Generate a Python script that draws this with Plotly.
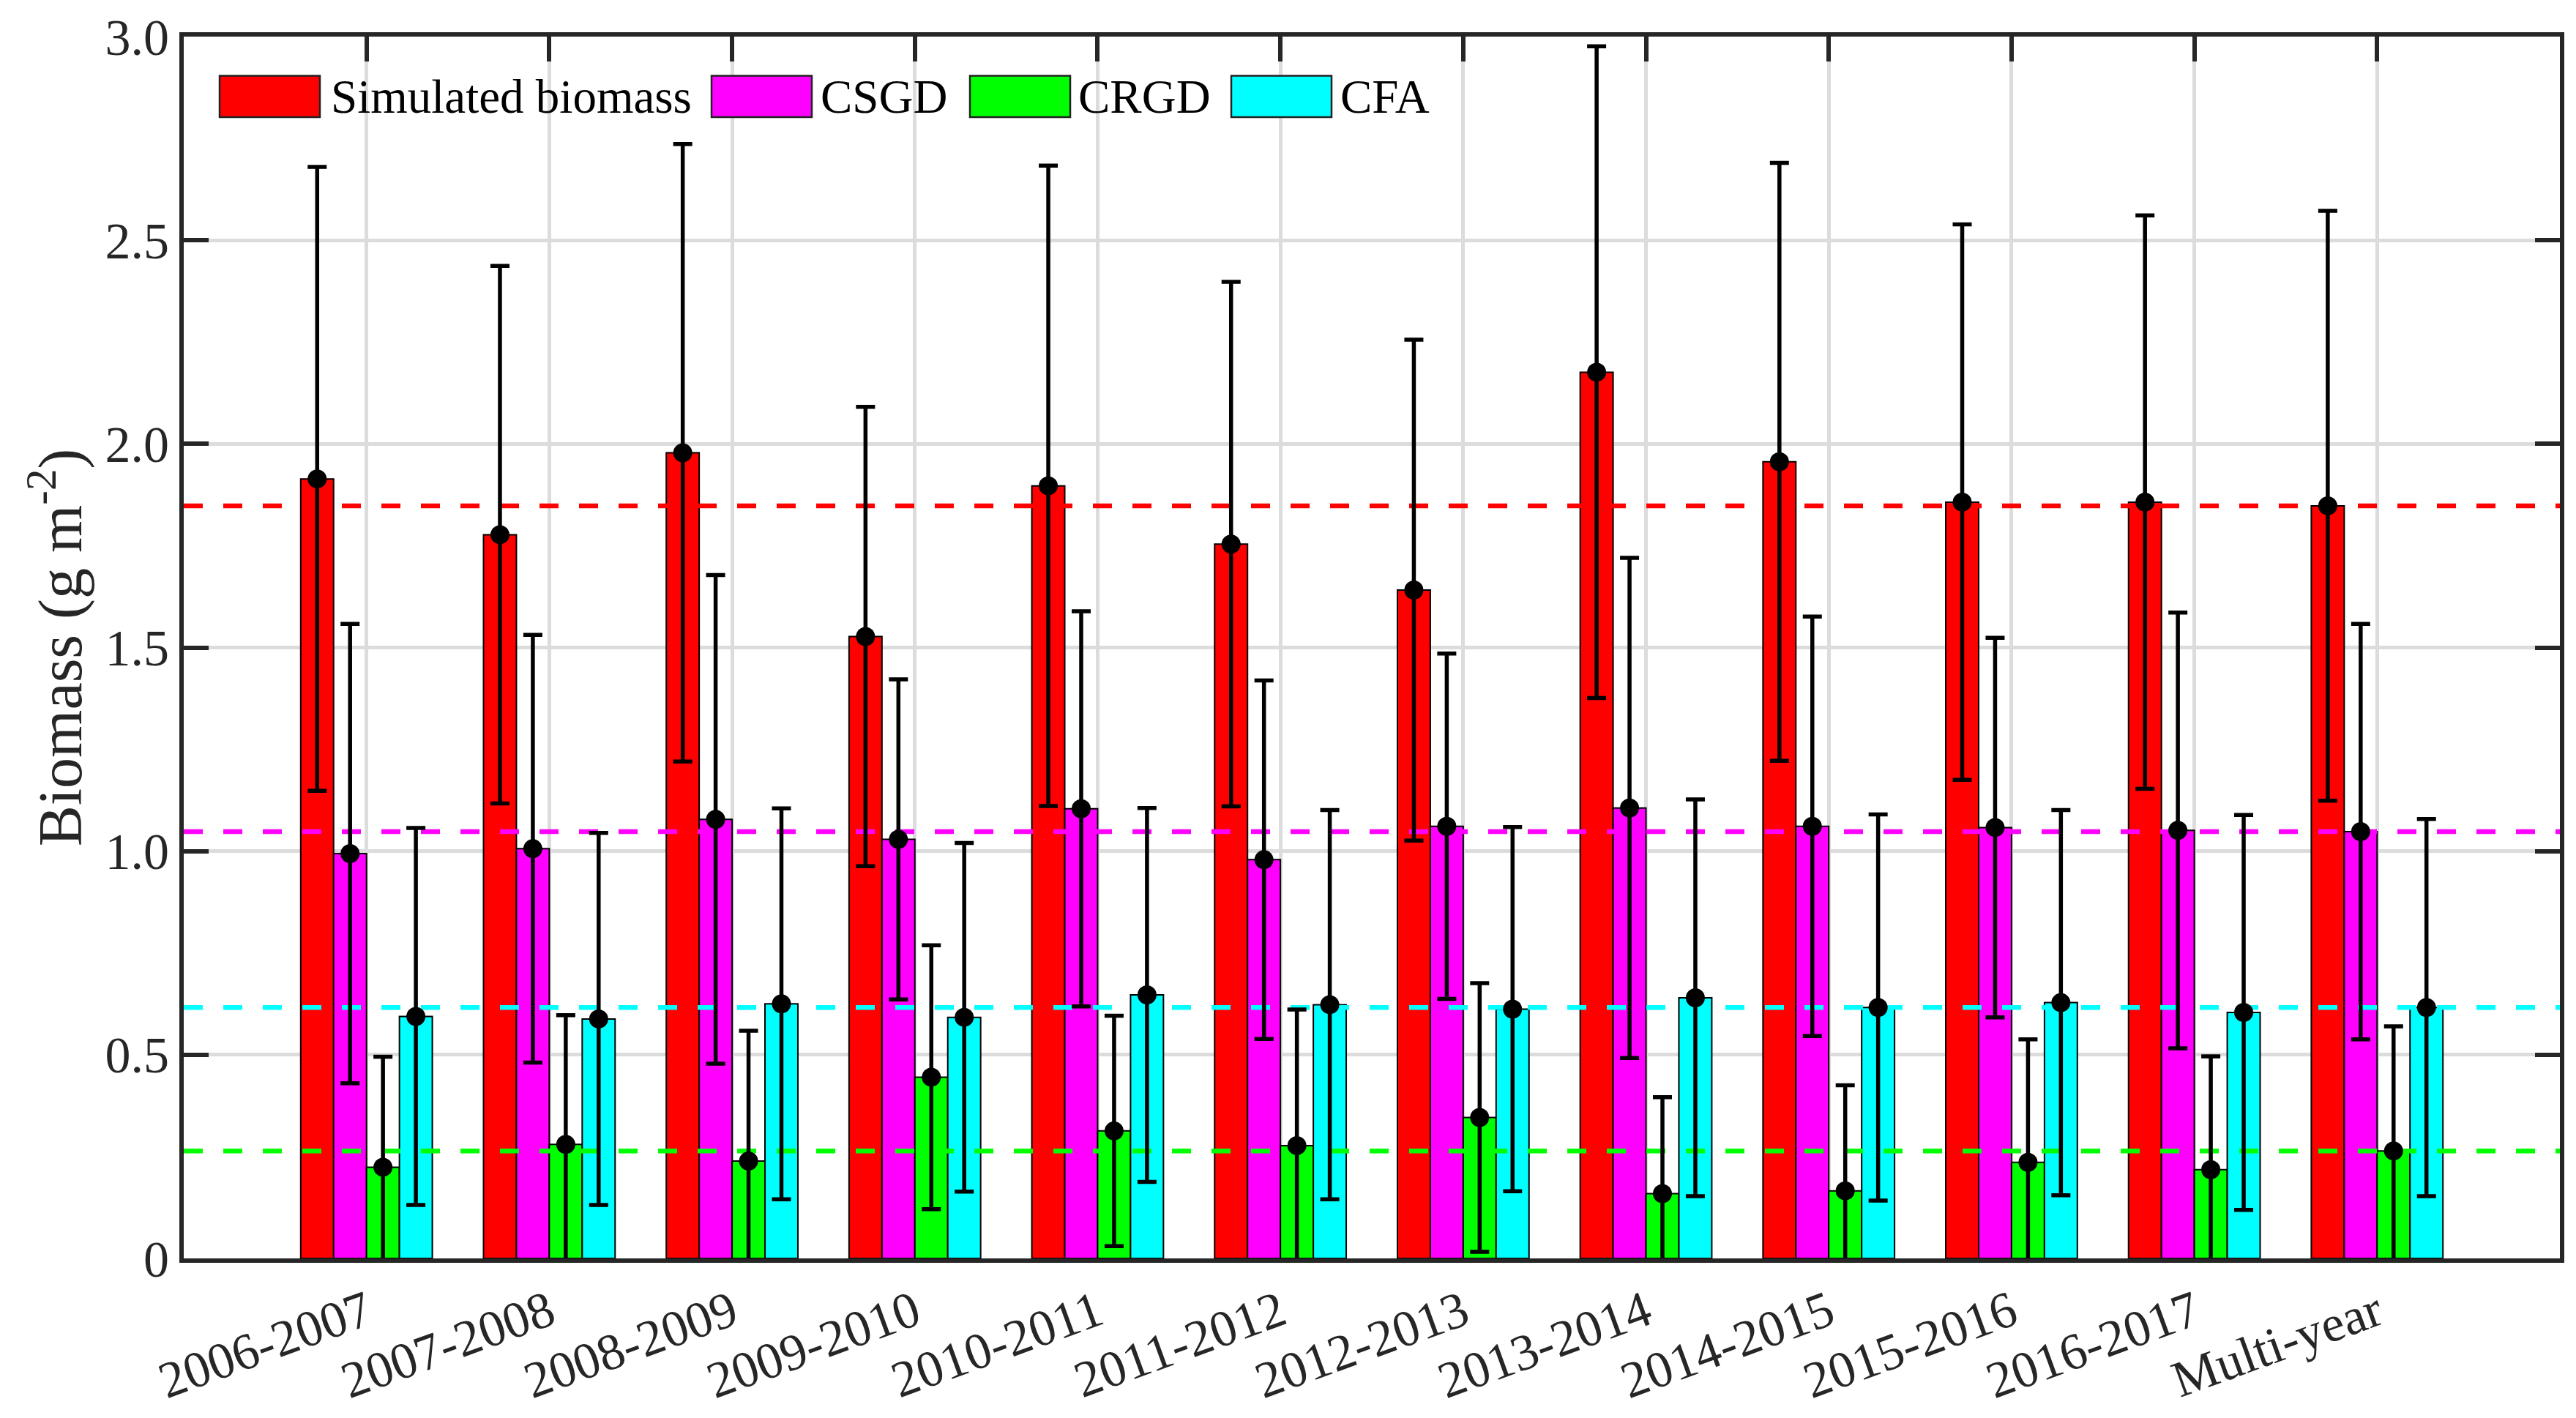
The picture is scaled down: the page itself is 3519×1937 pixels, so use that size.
import plotly.graph_objects as go

# ---------------- data ----------------
categories = ["2006-2007", "2007-2008", "2008-2009", "2009-2010", "2010-2011", "2011-2012",
              "2012-2013", "2013-2014", "2014-2015", "2015-2016", "2016-2017", "Multi-year"]

series_names = ["Simulated biomass", "CSGD", "CRGD", "CFA"]

sim_mean = [1.914, 1.777, 1.978, 1.527, 1.897, 1.754, 1.641, 2.176, 1.956, 1.857, 1.857, 1.848]
sim_sd   = [0.766, 0.660, 0.758, 0.564, 0.786, 0.644, 0.615, 0.800, 0.734, 0.682, 0.704, 0.724]

csgd_mean = [0.994, 1.006, 1.078, 1.029, 1.104, 0.979, 1.061, 1.106, 1.061, 1.058, 1.051, 1.048]
csgd_sd   = [0.564, 0.525, 0.600, 0.393, 0.485, 0.440, 0.424, 0.614, 0.515, 0.466, 0.535, 0.510]

crgd_mean = [0.224, 0.280, 0.239, 0.445, 0.313, 0.277, 0.346, 0.159, 0.166, 0.236, 0.218, 0.264]
crgd_sd   = [0.271, 0.317, 0.320, 0.324, 0.283, 0.334, 0.330, 0.237, 0.259, 0.302, 0.278, 0.306]

cfa_mean = [0.594, 0.588, 0.625, 0.592, 0.647, 0.623, 0.612, 0.640, 0.616, 0.628, 0.604, 0.616]
cfa_sd   = [0.463, 0.457, 0.480, 0.428, 0.459, 0.478, 0.447, 0.487, 0.474, 0.473, 0.485, 0.463]

y_tick_vals = [0, 0.5, 1.0, 1.5, 2.0, 2.5, 3.0]
y_tick_text = ["0", "0.5", "1.0", "1.5", "2.0", "2.5", "3.0"]

# ---------------- style ----------------
W, H = 3519, 1937
ML, MR, MT, MB = 251, 22, 40, 213
FONT = "Liberation Serif"
AX = "#262626"
colors = ["#FF0000", "#FF00FF", "#00FF00", "#00FFFF"]
BAR_W = 0.18
XLIM = [-1, 12]

means = [sim_mean, csgd_mean, crgd_mean, cfa_mean]
sds = [sim_sd, csgd_sd, crgd_sd, cfa_sd]
n_series = len(means)
offsets = [(k - (n_series - 1) / 2) * BAR_W for k in range(n_series)]
idx = list(range(len(categories)))

fig = go.Figure()

# bars
for k in range(n_series):
    xs = [i + offsets[k] for i in idx]
    fig.add_trace(go.Bar(
        x=xs, y=means[k], width=BAR_W, name=series_names[k],
        marker=dict(color=colors[k], line=dict(color="black", width=2)),
        showlegend=False, hoverinfo="skip"))

# dashed reference lines (multi-year values)
for k in range(n_series):
    ref = means[k][-1]
    fig.add_trace(go.Scatter(
        x=XLIM, y=[ref, ref], mode="lines",
        line=dict(color=colors[k], width=6.5, dash="26px,28px"),
        showlegend=False, hoverinfo="skip"))

# error bars + dots
for k in range(n_series):
    xs = [i + offsets[k] for i in idx]
    fig.add_trace(go.Scatter(
        x=xs, y=means[k], mode="markers",
        marker=dict(color="black", size=26),
        error_y=dict(type="data", array=sds[k], visible=True,
                     color="black", thickness=5.5, width=13),
        showlegend=False, cliponaxis=True, hoverinfo="skip"))

# ---------------- custom legend ----------------
PW = W - ML - MR
PH = H - MT - MB


def px_x(px):
    return (px - ML) / PW


def px_y(py):
    return (H - MB - py) / PH


legend_box_x = [300, 972, 1325, 1682]
legend_text_x = [450, 1119, 1471, 1829]
LEG_TOP, LEG_BOT = 94, 151
shapes = []
annotations = []
for k in range(n_series):
    shapes.append(dict(type="rect", xref="paper", yref="paper",
                       x0=px_x(legend_box_x[k]), x1=px_x(legend_box_x[k] + 137),
                       y0=px_y(LEG_BOT), y1=px_y(LEG_TOP),
                       fillcolor=colors[k], line=dict(color="#222222", width=2.5),
                       layer="above"))
    annotations.append(dict(xref="paper", yref="paper",
                            x=px_x(legend_text_x[k]), y=px_y((LEG_TOP + LEG_BOT) / 2),
                            xanchor="left", yanchor="middle", showarrow=False,
                            text=series_names[k],
                            font=dict(family=FONT, size=65, color="black")))

axis_common = dict(
    showline=True, linecolor=AX, linewidth=6, mirror="ticks",
    ticks="inside", ticklen=34, tickwidth=6, tickcolor=AX,
    showgrid=True, gridcolor="#dcdcdc", gridwidth=5, zeroline=False,
    layer="below traces",
    tickfont=dict(family=FONT, size=70, color=AX),
)

fig.update_layout(
    width=W, height=H,
    margin=dict(l=ML, r=MR, t=MT, b=MB, pad=0),
    paper_bgcolor="white", plot_bgcolor="white",
    barmode="overlay",
    showlegend=False,
    font=dict(family=FONT, color=AX),
    shapes=shapes, annotations=annotations,
    xaxis=dict(range=XLIM, tickvals=idx, ticktext=categories, tickangle=-20,
               **axis_common),
    yaxis=dict(range=[0, 3], tickvals=y_tick_vals, ticktext=y_tick_text,
               title=dict(text="Biomass (g m<sup>-2</sup>)",
                          font=dict(family=FONT, size=84, color=AX), standoff=6),
               **axis_common),
)

fig.write_html("out.html", config={"displayModeBar": False},
               post_script="document.body.style.margin='0';")
